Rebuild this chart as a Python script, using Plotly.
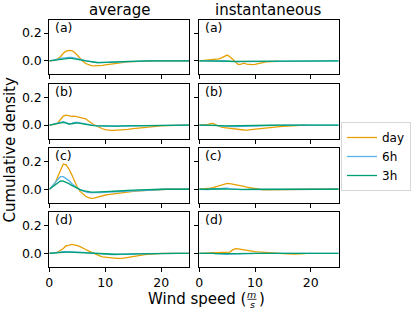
import plotly.graph_objects as go

# ---------------- data ----------------
wind_speed = [0, 0.5, 1, 1.5, 2, 2.5, 3, 3.5, 4, 4.5, 5, 5.5, 6, 6.5, 7, 7.5, 8, 8.5, 9, 9.5,
              10, 10.5, 11, 11.5, 12, 13, 14, 15, 16, 17, 18, 19, 20, 21, 22, 23, 24, 25]

series_names = ["day", "6h", "3h"]
column_titles = ["average", "instantaneous"]
panel_labels = ["(a)", "(b)", "(c)", "(d)"]
x_tick_values = [0, 10, 20]
y_tick_values = [0.0, 0.2]
y_tick_labels = ["0.0", "0.2"]

avg_a_day = [0, 0.002, 0.005, 0.015, 0.03, 0.055, 0.07, 0.076, 0.074, 0.062, 0.04, 0.018, -0.002, -0.018, -0.028, -0.033, -0.035, -0.035, -0.034, -0.031, -0.028, -0.025, -0.022, -0.019, -0.016,
             -0.011, -0.007, -0.004, -0.002, -0.001, 0, 0, 0, 0, 0, 0, 0, 0]
avg_a_6h = [0, 0.003, 0.008, 0.013, 0.018, 0.022, 0.025, 0.026, 0.025, 0.022, 0.018, 0.013, 0.008, 0.003, -0.002, -0.006, -0.009, -0.011, -0.012, -0.012, -0.011, -0.01, -0.009, -0.008, -0.007,
            -0.005, -0.003, -0.002, -0.001, 0, 0, 0, 0, 0, 0, 0, 0, 0]
avg_a_3h = [0, 0.003, 0.007, 0.011, 0.015, 0.018, 0.019, 0.019, 0.018, 0.016, 0.013, 0.009, 0.005, 0.001, -0.003, -0.006, -0.009, -0.011, -0.012, -0.012, -0.011, -0.01, -0.009, -0.008, -0.007,
            -0.005, -0.003, -0.002, -0.001, 0, 0, 0, 0, 0, 0, 0, 0, 0]

avg_b_day = [0, 0.002, 0.005, 0.015, 0.04, 0.065, 0.072, 0.068, 0.062, 0.064, 0.06, 0.055, 0.05, 0.045, 0.03, 0.015, 0.003, -0.008, -0.018, -0.026, -0.032, -0.036, -0.038, -0.038, -0.037,
             -0.034, -0.03, -0.025, -0.02, -0.016, -0.012, -0.008, -0.005, -0.003, -0.001, 0, 0, 0]
avg_b_6h = [0, 0.004, 0.01, 0.016, 0.021, 0.024, 0.018, 0.01, 0.012, 0.019, 0.02, 0.016, 0.01, 0.005, 0.001, -0.002, -0.004, -0.006, -0.007, -0.008, -0.008, -0.008, -0.008, -0.008, -0.008,
            -0.007, -0.006, -0.005, -0.004, -0.003, -0.002, -0.001, 0, 0, 0, 0, 0, 0]
avg_b_3h = [0, 0.003, 0.008, 0.013, 0.017, 0.019, 0.014, 0.008, 0.01, 0.015, 0.016, 0.013, 0.008, 0.004, 0.001, -0.002, -0.004, -0.005, -0.006, -0.007, -0.007, -0.007, -0.007, -0.007, -0.007,
            -0.006, -0.005, -0.004, -0.003, -0.002, -0.001, 0, 0, 0, 0, 0, 0, 0]

avg_c_day = [0, 0.02, 0.04, 0.09, 0.14, 0.18, 0.175, 0.145, 0.105, 0.06, 0.015, -0.015, -0.035, -0.05, -0.06, -0.065, -0.063, -0.057, -0.05, -0.045, -0.041, -0.038, -0.035, -0.032, -0.03,
             -0.025, -0.02, -0.015, -0.011, -0.008, -0.005, -0.003, -0.001, 0, 0, 0, 0, 0]
avg_c_6h = [0, 0.02, 0.045, 0.07, 0.09, 0.09, 0.078, 0.062, 0.042, 0.024, 0.009, -0.004, -0.013, -0.019, -0.023, -0.025, -0.025, -0.024, -0.023, -0.022, -0.02, -0.019, -0.017, -0.015, -0.013,
            -0.011, -0.009, -0.007, -0.005, -0.004, -0.003, -0.002, -0.001, 0, 0, 0, 0, 0]
avg_c_3h = [0, 0.015, 0.032, 0.048, 0.06, 0.058, 0.05, 0.04, 0.028, 0.016, 0.006, -0.003, -0.01, -0.015, -0.018, -0.02, -0.02, -0.02, -0.019, -0.018, -0.017, -0.016, -0.015, -0.014, -0.012,
            -0.01, -0.008, -0.006, -0.004, -0.003, -0.002, -0.001, 0, 0, 0, 0, 0, 0]

avg_d_day = [0, 0.001, 0.004, 0.01, 0.02, 0.035, 0.055, 0.057, 0.065, 0.062, 0.055, 0.048, 0.04, 0.028, 0.018, 0.008, 0.001, -0.008, -0.018, -0.024, -0.027, -0.028, -0.03, -0.034, -0.036,
             -0.035, -0.03, -0.022, -0.015, -0.009, -0.005, -0.002, 0, 0, 0, 0, 0, 0]
avg_d_6h = [0, 0.003, 0.006, 0.009, 0.011, 0.012, 0.012, 0.012, 0.011, 0.011, 0.01, 0.009, 0.008, 0.006, 0.004, 0.002, 0, -0.002, -0.004, -0.006, -0.007, -0.008, -0.008, -0.008, -0.008,
            -0.007, -0.005, -0.004, -0.002, -0.001, 0, 0, 0, 0, 0, 0, 0, 0]
avg_d_3h = [0, 0.002, 0.005, 0.008, 0.009, 0.01, 0.01, 0.01, 0.009, 0.009, 0.008, 0.007, 0.006, 0.005, 0.003, 0.001, 0, -0.002, -0.003, -0.004, -0.005, -0.006, -0.006, -0.006, -0.006,
            -0.005, -0.004, -0.003, -0.002, -0.001, 0, 0, 0, 0, 0, 0, 0, 0]

inst_a_day = [0, 0.002, 0.006, 0.008, 0.01, 0.01, 0.012, 0.015, 0.022, 0.035, 0.042, 0.03, 0.01, -0.01, -0.025, -0.022, -0.015, -0.022, -0.025, -0.026, -0.025, -0.02, -0.013, -0.009, -0.007,
              -0.005, -0.002, None, None, None, None, None, None, None, None, None, None, None]
inst_a_6h = [0, 0, 0.002, 0.003, 0.002, 0.003, 0.004, 0.003, 0.002, 0, -0.002, -0.004, -0.005, -0.006, -0.006, -0.005, -0.005, -0.004, -0.004, -0.003, -0.003, -0.002, -0.002, -0.001, -0.001,
             0, 0, 0, 0, 0, 0, 0, 0, 0, 0, 0, 0, 0]
inst_a_3h = [0, 0, 0.001, 0.002, 0.002, 0.002, 0.003, 0.002, 0.001, 0, -0.001, -0.002, -0.003, -0.003, -0.003, -0.003, -0.002, -0.002, -0.002, -0.002, -0.001, -0.001, -0.001, 0, 0,
             0, 0, 0, 0, 0, 0, 0, 0, 0, 0, 0, 0, 0]

inst_b_day = [0, 0.001, 0.003, 0.006, 0.01, 0.012, 0.002, -0.008, -0.014, -0.018, -0.021, -0.024, -0.027, -0.03, -0.033, -0.034, -0.035, -0.036, -0.035, -0.033, -0.03, -0.027, -0.025, -0.022, -0.02,
              -0.016, -0.012, -0.009, -0.006, -0.004, -0.002, 0, None, None, None, None, None, None]
inst_b_6h = [0, 0, 0.001, 0.002, 0.002, 0.001, -0.002, -0.005, -0.007, -0.008, -0.009, -0.01, -0.01, -0.01, -0.01, -0.01, -0.009, -0.008, -0.008, -0.007, -0.006, -0.005, -0.005, -0.004, -0.003,
             -0.002, -0.001, 0, 0, 0, 0, 0, 0, 0, 0, 0, 0, 0]
inst_b_3h = [0, 0, 0.001, 0.001, 0.001, 0, -0.002, -0.003, -0.004, -0.005, -0.005, -0.006, -0.006, -0.006, -0.006, -0.006, -0.005, -0.005, -0.004, -0.004, -0.003, -0.003, -0.002, -0.002, -0.001,
             -0.001, 0, 0, 0, 0, 0, 0, 0, 0, 0, 0, 0, 0]

inst_c_day = [0, 0.001, 0.004, 0.006, 0.008, 0.012, 0.018, 0.024, 0.032, 0.04, 0.042, 0.04, 0.037, 0.033, 0.029, 0.025, 0.02, 0.016, 0.012, 0.008, 0.004, 0.001, -0.002, -0.004, -0.005,
              -0.005, -0.004, -0.003, -0.002, -0.001, 0, 0, 0, 0.001, 0.001, 0.002, 0.002, 0.003]
inst_c_6h = [0, -0.002, -0.003, -0.002, 0, 0.002, 0.004, 0.006, 0.008, 0.009, 0.008, 0.005, 0.002, 0, -0.002, -0.003, -0.003, -0.003, -0.002, -0.002, -0.001, -0.001, 0, 0, 0,
             0, 0, 0, 0, 0, 0, 0, 0, 0, 0, 0, 0, 0]
inst_c_3h = [0, -0.001, -0.002, 0, 0.002, 0.003, 0.004, 0.004, 0.003, 0.002, 0.001, 0, -0.001, -0.002, -0.002, -0.002, -0.001, -0.001, 0, 0, 0, 0, 0, 0, 0,
             0, 0, 0, 0, 0, 0, 0, 0, 0, 0, 0, 0, 0]

inst_d_day = [0, 0.002, 0.004, 0.005, 0.005, 0.006, 0.006, 0.007, 0.009, 0.012, 0.014, 0.01, 0.025, 0.034, 0.032, 0.028, 0.026, 0.023, 0.02, 0.016, 0.013, 0.011, 0.009, 0.008, 0.007,
              0.005, 0.002, -0.001, -0.004, -0.005, -0.003, -0.001, None, None, None, None, None, None]
inst_d_6h = [0, 0.001, 0.002, 0.002, 0.001, 0, -0.002, -0.004, -0.005, -0.006, -0.006, -0.005, -0.004, -0.003, -0.002, -0.001, 0, 0, 0, 0, 0, 0, 0, 0, 0,
             0, 0, 0, 0, 0, 0, 0, 0, 0, 0, 0, 0, 0]
inst_d_3h = [0, 0.001, 0.001, 0.001, 0.001, 0, -0.001, -0.002, -0.003, -0.003, -0.003, -0.003, -0.002, -0.002, -0.001, 0, 0, 0, 0, 0, 0, 0, 0, 0, 0,
             0, 0, 0, 0, 0, 0, 0, 0, 0, 0, 0, 0, 0]

panels = [  # (row, col) -> [day, 6h, 3h]
    [[avg_a_day, avg_a_6h, avg_a_3h], [inst_a_day, inst_a_6h, inst_a_3h]],
    [[avg_b_day, avg_b_6h, avg_b_3h], [inst_b_day, inst_b_6h, inst_b_3h]],
    [[avg_c_day, avg_c_6h, avg_c_3h], [inst_c_day, inst_c_6h, inst_c_3h]],
    [[avg_d_day, avg_d_6h, avg_d_3h], [inst_d_day, inst_d_6h, inst_d_3h]],
]
for row in panels:
    for col in row:
        for s in col:
            assert len(s) == len(wind_speed), len(s)

# ---------------- styling / layout ----------------
W, H = 415, 312
colors = ["#E69F00", "#56B4E9", "#009E73"]
FONT = "DejaVu Sans"
col_x = [(49.3, 189.3), (199.2, 338.7)]
row_top0, row_step, row_h = 20.0, 64.15, 54.4
y_range = [-0.096, 0.293]
x_range = [0, 25]

fig = go.Figure()
layout = dict(
    width=W, height=H, margin=dict(l=0, r=0, t=0, b=0),
    paper_bgcolor="white", plot_bgcolor="white",
    font=dict(family=FONT, size=12, color="black"),
    showlegend=True,
    legend=dict(x=341 / W, y=1 - 122 / H, xanchor="left", yanchor="top",
                bgcolor="white", bordercolor="#d6d6d6", borderwidth=1,
                font=dict(family=FONT, size=12, color="black"),
                tracegroupgap=0),
)
annotations = []

for r in range(4):
    top = row_top0 + r * row_step
    bottom = top + row_h
    for c in range(2):
        idx = r * 2 + c + 1
        xs = "" if idx == 1 else str(idx)
        xl, xr = col_x[c]
        layout["xaxis" + xs] = dict(
            domain=[xl / W, xr / W], range=x_range, anchor="y" + xs,
            showline=True, mirror=True, linecolor="black", linewidth=1,
            ticks="outside", ticklen=4, tickwidth=1, tickcolor="black",
            tickvals=x_tick_values, showticklabels=(r == 3),
            tickfont=dict(family=FONT, size=12.5, color="black"),
            showgrid=False, zeroline=False, automargin=False,
        )
        layout["yaxis" + xs] = dict(
            domain=[1 - bottom / H, 1 - top / H], range=y_range, anchor="x" + xs,
            showline=True, mirror=True, linecolor="black", linewidth=1,
            ticks="outside", ticklen=4, tickwidth=1, tickcolor="black",
            tickvals=y_tick_values, ticktext=y_tick_labels, showticklabels=(c == 0),
            tickfont=dict(family=FONT, size=12.5, color="black"),
            showgrid=False, zeroline=False, automargin=False,
        )
        for k, name in enumerate(series_names):
            fig.add_trace(go.Scatter(
                x=wind_speed, y=panels[r][c][k], mode="lines", name=name,
                line=dict(color=colors[k], width=1.3),
                xaxis="x" + xs, yaxis="y" + xs,
                showlegend=(idx == 1), legendgroup=name,
            ))
        annotations.append(dict(
            text=panel_labels[r], x=(xl + 4) / W, y=1 - (top + 7.5) / H,
            xref="paper", yref="paper", xanchor="left", yanchor="middle",
            showarrow=False, font=dict(family=FONT, size=12.5, color="black"),
        ))

# column titles
for c in range(2):
    xl, xr = col_x[c]
    annotations.append(dict(
        text=column_titles[c], x=(xl + xr) / 2 / W, y=1 - 9.5 / H,
        xref="paper", yref="paper", xanchor="center", yanchor="middle",
        showarrow=False, font=dict(family=FONT, size=15, color="black"),
    ))

# y label
annotations.append(dict(
    text="Cumulative density", x=9.5 / W, y=1 - 150 / H, textangle=-90,
    xref="paper", yref="paper", xanchor="center", yanchor="middle",
    showarrow=False, font=dict(family=FONT, size=15, color="black"),
))

# x label: Wind speed (m/s) with stacked fraction
annotations.append(dict(
    text="Wind speed (", x=247.5 / W, y=1 - 299 / H,
    xref="paper", yref="paper", xanchor="right", yanchor="middle",
    showarrow=False, font=dict(family=FONT, size=15, color="black"),
))
annotations.append(dict(
    text="<i>m</i>", x=251.8 / W, y=1 - 294 / H,
    xref="paper", yref="paper", xanchor="center", yanchor="middle",
    showarrow=False, font=dict(family=FONT, size=9.5, color="black"),
))
annotations.append(dict(
    text="<i>s</i>", x=252 / W, y=1 - 304.5 / H,
    xref="paper", yref="paper", xanchor="center", yanchor="middle",
    showarrow=False, font=dict(family=FONT, size=9.5, color="black"),
))
annotations.append(dict(
    text=")", x=257 / W, y=1 - 299 / H,
    xref="paper", yref="paper", xanchor="left", yanchor="middle",
    showarrow=False, font=dict(family=FONT, size=15, color="black"),
))
layout["shapes"] = [dict(type="line", xref="paper", yref="paper",
                         x0=247.5 / W, x1=256.5 / W, y0=1 - 299.3 / H, y1=1 - 299.3 / H,
                         line=dict(color="black", width=0.8))]
layout["annotations"] = annotations

fig.update_layout(**layout)
fig.write_html(
    "out.html",
    config={"displayModeBar": False},
    post_script="document.body.style.margin='0';document.body.style.padding='0';",
)
